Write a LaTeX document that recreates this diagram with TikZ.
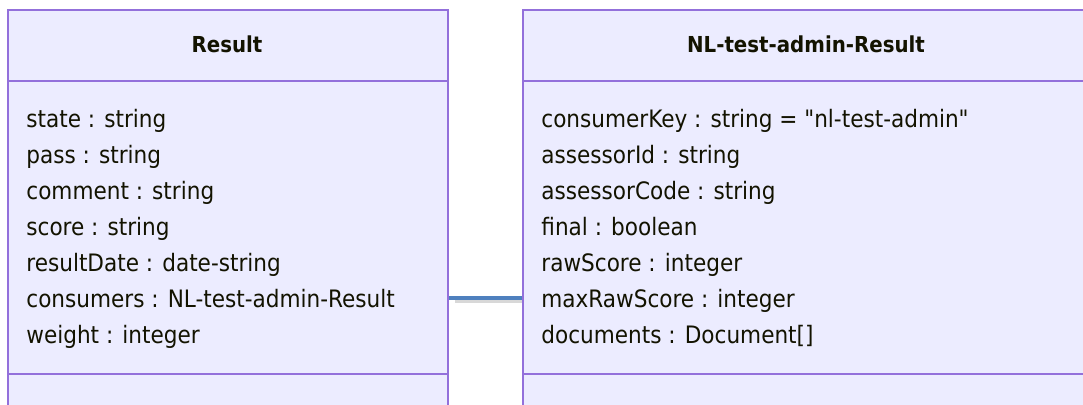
\documentclass[tikz,border=0pt]{standalone}
\usepackage{fontspec}
\setmainfont[Ligatures=TeXOff]{DejaVu Sans Condensed}
\usepackage{tikz}
\usetikzlibrary{positioning}

\definecolor{classfill}{HTML}{ECECFF}
\definecolor{classline}{HTML}{9370DB}
\definecolor{classtext}{HTML}{131300}
\definecolor{linkblue}{HTML}{4E80BE}

\begin{document}
\begin{tikzpicture}[
    x=0.5pt, y=-0.5pt, % one unit is one pixel of the reference
    classbox/.style={draw=classline, fill=classfill, line width=1pt, inner sep=0pt},
    classname/.style={font=\bfseries\fontsize{11}{13}\selectfont, text=classtext, anchor=base, inner sep=0pt},
    member/.style={font=\fontsize{12}{14}\selectfont, text=classtext, anchor=base west, inner sep=0pt},
    nextmember/.style={below=18pt of #1.base west, anchor=base west},
    link/.style={draw=linkblue, line width=2pt}
]
\useasboundingbox (0,0) rectangle (1083,405);
\clip (0,0) rectangle (1083,405);

% Classes
\node[classbox, minimum width=220pt, minimum height=215pt, anchor=north west] (result) at (7,9) {};
\node[classbox, minimum width=284pt, minimum height=215pt, anchor=north west] (nlresult) at (522,9) {};

% Compartment lines
\draw[classline, line width=1pt] (result.north west) ++(0,72) -- ++(440,0);
\draw[classline, line width=1pt] (result.north west) ++(0,365) -- ++(440,0);
\draw[classline, line width=1pt] (nlresult.north west) ++(0,72) -- ++(568,0);
\draw[classline, line width=1pt] (nlresult.north west) ++(0,365) -- ++(568,0);

% Class names
\node[classname] (resultname) at (227,53) {Result};
\node[classname] (nlresultname) at (806,53) {NL-test-admin-Result};

% Members of Result
\node[member] (state) at (26,128) {state : string};
\node[member, nextmember=state] (pass) {pass : string};
\node[member, nextmember=pass] (comment) {comment : string};
\node[member, nextmember=comment] (score) {score : string};
\node[member, nextmember=score] (resultdate) {resultDate : date-string};
\node[member, nextmember=resultdate] (consumers) {consumers : NL-test-admin-Result};
\node[member, nextmember=consumers] (weight) {weight : integer};

% Members of NL-test-admin-Result
\node[member] (consumerkey) at (541,128) {consumerKey : string = "nl-test-admin"};
\node[member, nextmember=consumerkey] (assessorid) {assessorId : string};
\node[member, nextmember=assessorid] (assessorcode) {assessorCode : string};
\node[member, nextmember=assessorcode] (final) {final : boolean};
\node[member, nextmember=final] (rawscore) {rawScore : integer};
\node[member, nextmember=rawscore] (maxrawscore) {maxRawScore : integer};
\node[member, nextmember=maxrawscore] (documents) {documents : Document[]};

% Association
\coordinate (linkrow) at (0,298);
\draw[black!30, opacity=0.5, line width=2.5pt, shorten <=3pt] ([yshift=-1.5pt]result.east |- linkrow) -- ([yshift=-1.5pt]nlresult.west |- linkrow);
\draw[link] (result.east |- linkrow) -- (nlresult.west |- linkrow);

\end{tikzpicture}
\end{document}
